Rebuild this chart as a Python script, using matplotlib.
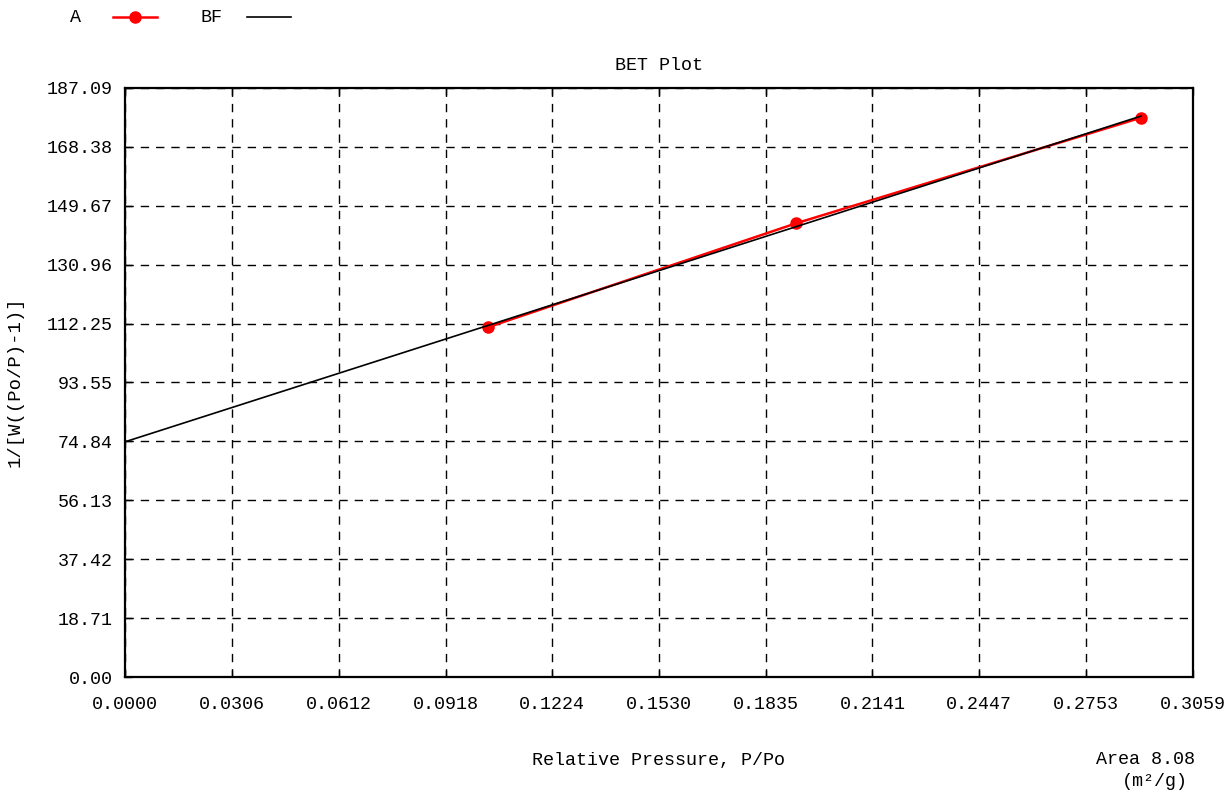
import numpy as np
import matplotlib.pyplot as plt

# --- Dati BET ---
p_rel = [0.1039, 0.1922, 0.2910]        # P/Po
bet_y = [111.08, 144.10, 177.66]        # 1/[W((Po/P)-1)]
x_ticks = [0.0000, 0.0306, 0.0612, 0.0918, 0.1224, 0.1530, 0.1835, 0.2141, 0.2447, 0.2753, 0.3059]
y_ticks = [0.00, 18.71, 37.42, 56.13, 74.84, 93.55, 112.25, 130.96, 149.67, 168.38, 187.09]
area = 8.08

# Retta di best fit (BF)
slope, intercept = np.polyfit(p_rel, bet_y, 1)
x_fit = np.array([0.0, p_rel[-1]])
y_fit = intercept + slope * x_fit

font = 'Liberation Mono'
fs = 13.2

fig = plt.figure(figsize=(12.3, 7.93), dpi=100)
ax = fig.add_axes([125 / 1230, 1 - 677 / 793, 1068 / 1230, 589 / 793])

ax.plot(p_rel, bet_y, color='red', linewidth=1.8, marker='o', markersize=8, zorder=3)
ax.plot(x_fit, y_fit, color='black', linewidth=1.2, zorder=4)

ax.set_xlim(x_ticks[0], x_ticks[-1])
ax.set_ylim(y_ticks[0], y_ticks[-1])
ax.set_xticks(x_ticks)
ax.set_yticks(y_ticks)
ax.set_xticklabels([f'{v:.4f}' for v in x_ticks], family=font, fontsize=fs)
ax.set_yticklabels([f'{v:.2f}' for v in y_ticks], family=font, fontsize=fs)
ax.tick_params(direction='in', length=5, width=1, top=True, right=False)
ax.tick_params(axis='x', pad=14)
ax.tick_params(axis='y', pad=9)
ax.grid(True, color='black', linestyle=(0, (6, 5)), linewidth=1)
for s in ax.spines.values():
    s.set_linewidth(1.6)

ax.set_title('BET Plot', family=font, fontsize=fs, pad=13)
fig.text(15 / 1230, 1 - 382 / 793, '1/[W((Po/P)-1)]', family=font, fontsize=13.6,
         rotation=90, ha='center', va='center')
fig.text(658 / 1230, 1 - 760 / 793, 'Relative Pressure, P/Po', family=font, fontsize=fs,
         ha='center', va='center')
fig.text(1145 / 1230, 1 - 760 / 793, f'Area {area:.2f}', family=font, fontsize=fs,
         ha='center', va='center')
fig.text(1155 / 1230, 1 - 781 / 793, '(m²/g)', family=font, fontsize=fs,
         ha='center', va='center')

# Legenda in alto
fig.text(75 / 1230, 1 - 17 / 793, 'A', family=font, fontsize=fs, ha='center', va='center')
fig.add_artist(plt.Line2D([113 / 1230, 157 / 1230], [1 - 17 / 793] * 2, color='red',
                          linewidth=1.8, transform=fig.transFigure))
fig.add_artist(plt.Line2D([135 / 1230], [1 - 17 / 793], color='red', marker='o',
                          markersize=8, transform=fig.transFigure))
fig.text(212 / 1230, 1 - 17 / 793, 'BF', family=font, fontsize=fs, ha='center', va='center')
fig.add_artist(plt.Line2D([247 / 1230, 291 / 1230], [1 - 17 / 793] * 2, color='black',
                          linewidth=1.2, transform=fig.transFigure))

fig.savefig('out.png', dpi=100)
